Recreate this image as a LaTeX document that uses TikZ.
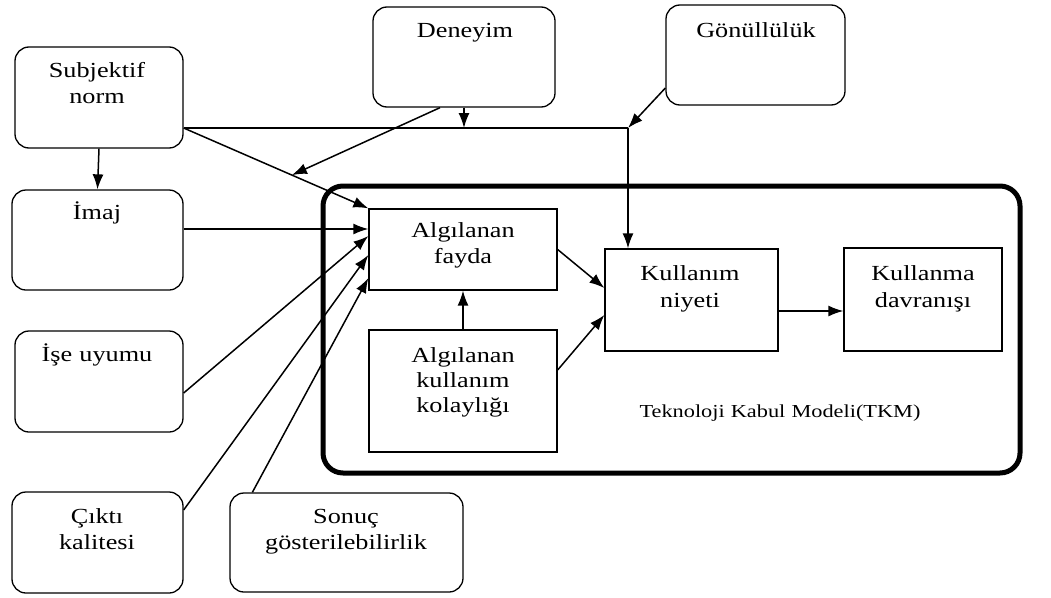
\documentclass[tikz,border=0pt]{standalone}
\usepackage{fontspec}
\setmainfont{Liberation Serif}[FakeStretch=1.22]
\usetikzlibrary{arrows.meta,calc}
\begin{document}
\begin{tikzpicture}[x=1pt,y=-1pt,
  rbox/.style={draw, line width=1.3pt, rounded corners=14pt, inner sep=0pt},
  sbox/.style={draw, line width=1.3pt, inner sep=0pt},
  bigbox/.style={draw, line width=5pt, rounded corners=20pt, inner sep=0pt},
  lbl/.style={anchor=base, text width=240pt, align=center, inner sep=0pt, font=\fontsize{21.5}{26}\selectfont},
  conn/.style={line width=1.5pt},
  arr/.style={line width=1.5pt, -{Latex[length=15pt,width=11pt]}}]
\useasboundingbox (0,0) rectangle (1051,597);
% big TKM frame
\node[bigbox, minimum width=697pt, minimum height=287pt] (big) at (671.5,329.5) {};
% boxes
\node[rbox, minimum width=168pt, minimum height=101pt] (subj) at (99,97.5) {};
\node[rbox, minimum width=182pt, minimum height=100pt] (dene) at (464,57) {};
\node[rbox, minimum width=179pt, minimum height=100pt] (gonu) at (755.5,55) {};
\node[rbox, minimum width=171pt, minimum height=100pt] (imaj) at (97.5,240) {};
\node[rbox, minimum width=168pt, minimum height=101pt] (ise) at (99,381.5) {};
\node[rbox, minimum width=171pt, minimum height=101pt] (cikti) at (97.5,542.5) {};
\node[rbox, minimum width=233pt, minimum height=99pt] (sonuc) at (346.5,542.5) {};
\node[sbox, minimum width=188pt, minimum height=81pt] (fayda) at (463,249.5) {};
\node[sbox, minimum width=188pt, minimum height=122pt] (kolay) at (463,391) {};
\node[sbox, minimum width=173pt, minimum height=102pt] (niyet) at (691.5,300) {};
\node[sbox, minimum width=158pt, minimum height=103pt] (davr) at (923,299.5) {};
% labels
\node[lbl] (subjT) at (97,77) {Subjektif\\norm};
\node[lbl] (deneT) at (465,37) {Deneyim};
\node[lbl] (gonuT) at (756,37) {Gönüllülük};
\node[lbl] (imajT) at (97,219) {İmaj};
\node[lbl] (iseT) at (97,361) {İşe uyumu};
\node[lbl] (ciktiT) at (97,523) {Çıktı\\kalitesi};
\node[lbl] (sonucT) at (346,523) {Sonuç\\gösterilebilirlik};
\node[lbl] (faydaT) at (463,237) {Algılanan\\fayda};
\node[lbl, font=\fontsize{21.5}{25}\selectfont] (kolayT) at (463,362) {Algılanan\\kullanım\\kolaylığı};
\node[lbl, font=\fontsize{21.5}{27}\selectfont] (niyetT) at (690,280) {Kullanım\\niyeti};
\node[lbl, font=\fontsize{21.5}{27}\selectfont] (davrT) at (923,280) {Kullanma\\davranışı};
\node[lbl, text width=400pt, font=\fontsize{18.3}{22}\selectfont] (tkmT) at (780,417) {Teknoloji Kabul Modeli(TKM)};
% connectors
\coordinate (J) at (628,128);
\coordinate (S0) at (subj.east |- J);
\coordinate (M) at ($(S0)!0.586!(fayda.north west)$);
\draw[arr] (subj.south) -- (imaj.north);
\draw[conn] (S0) -- (J);
\draw[arr] (dene.south) -- (dene.south |- J);
\draw[arr] ([yshift=-33pt]gonu.west) -- (J);
\draw[arr] (J) -- (J |- niyet.north);
\draw[arr] (S0) -- (fayda.north west);
\draw[arr] ([xshift=-24pt]dene.south) -- (M);
\draw[arr] ([yshift=11pt]imaj.east) -- ([yshift=11pt]imaj.east -| fayda.west);
\draw[arr] ([yshift=-11.5pt]ise.east) -- ([yshift=13.5pt]fayda.west);
\draw[arr] ([yshift=32.5pt]cikti.east) -- ([yshift=-5.5pt]fayda.west);
\draw[arr] ([xshift=23pt]sonuc.north west) -- ([yshift=-28.5pt]fayda.west);
\draw[arr] (kolay.north) -- (fayda.south);
\draw[arr] (fayda.east) -- ([yshift=12pt]niyet.west);
\draw[arr] ([yshift=21pt]kolay.east) -- ([yshift=-15pt]niyet.west);
\draw[arr] ([yshift=-11pt]niyet.east) -- ([yshift=-11pt]niyet.east -| davr.west);
\end{tikzpicture}
\end{document}
